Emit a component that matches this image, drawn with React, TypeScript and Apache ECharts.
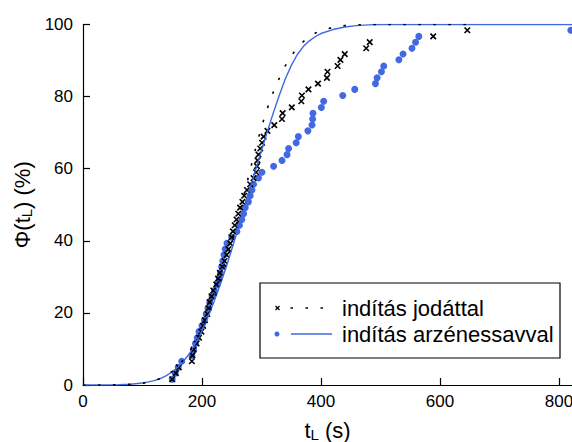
import React, { useEffect, useRef } from 'react';
import * as echarts from 'echarts';

const cumulativePct = [
  1.6, 3.3, 4.9, 6.6, 8.2, 9.8, 11.5, 13.1, 14.8, 16.4, 18.0, 19.7, 21.3, 23.0, 24.6,
  26.2, 27.9, 29.5, 31.1, 32.8, 34.4, 36.1, 37.7, 39.3, 41.0, 42.6, 44.3, 45.9, 47.5, 49.2,
  50.8, 52.5, 54.1, 55.7, 57.4, 59.0, 60.7, 62.3, 63.9, 65.6, 67.2, 68.9, 70.5, 72.1, 73.8,
  75.4, 77.0, 78.7, 80.3, 82.0, 83.6, 85.2, 86.9, 88.5, 90.2, 91.8, 93.4, 95.1, 96.7, 98.4,
];

// induction times, initiation with iodate (crosses)
const jodTimes = [
  150, 156, 161, 183, 184, 186, 191, 195, 199, 202, 205, 209, 211, 213, 216,
  219, 224, 227, 230, 234, 238, 241.5, 244.6, 247.5, 249.5, 252, 255, 258, 261, 264,
  268, 271, 275.6, 281, 286.7, 291, 292.4, 293.4, 295, 298, 301, 303.5, 310, 321.5, 334.5,
  335.6, 351, 367, 368, 379, 395, 410, 411, 428, 432.7, 440, 476, 482, 588.7, 646,
];

// induction times, initiation with arsenous acid (dots)
const arzTimes = [
  150, 155, 160, 166, 183, 186, 189, 192, 195, 200, 204, 207, 210, 213, 217,
  221, 226, 229, 231, 233, 235, 237, 239, 242, 250, 258.7, 263, 267, 270, 272.7,
  278, 281, 284, 286.7, 295, 300.8, 320.4, 334.5, 343, 345.6, 358.3, 362, 378, 385, 386,
  386.6, 400.7, 404.6, 436.6, 456.8, 491.6, 494.4, 501.7, 505.6, 531, 538, 553, 559, 564.5, 820,
];

// fitted distribution curves
const jodFitX = [0, 40, 60, 80, 100, 110, 120, 130, 140, 150, 160, 170, 180, 190, 200, 210, 220, 230, 240, 250, 260, 270, 280, 290, 300, 310, 320, 330, 340, 350, 360, 370, 380, 390, 400, 420, 440, 460, 480, 500, 650];
const jodFitY = [0, 0, 0.05, 0.2, 0.5, 0.8, 1.2, 1.8, 2.7, 3.8, 5.3, 7.2, 9.5, 12.3, 15.5, 19.2, 23.4, 28.2, 33.5, 39.4, 45.7, 52.3, 59, 65.5, 71.5, 76.8, 81.3, 85.1, 88.5, 91.3, 93.5, 95.2, 96.6, 97.6, 98.3, 99.2, 99.7, 99.9, 100, 100, 100];

const arzFitX = [0, 40, 60, 80, 100, 110, 120, 130, 140, 150, 160, 170, 180, 190, 200, 210, 220, 230, 240, 250, 260, 270, 280, 290, 300, 310, 320, 330, 340, 350, 360, 370, 380, 390, 400, 420, 440, 460, 480, 500, 822];
const arzFitY = [0, 0, 0.05, 0.2, 0.55, 0.85, 1.2, 1.8, 2.6, 3.6, 5.0, 6.8, 9.0, 11.8, 15, 18.8, 23, 27.5, 32.3, 37.6, 43, 48.6, 54.2, 59.6, 65, 70.4, 75.5, 80.4, 84.9, 88.6, 91.6, 93.8, 95.4, 96.6, 97.5, 98.6, 99.3, 99.7, 99.9, 100, 100];

const xTicks = [0, 200, 400, 600, 800];
const legendLabels = ['indítás jodáttal', 'indítás arzénessavval'];

const BLUE = '#4169e1';
const FONT = '"Liberation Sans", Arial, Helvetica, sans-serif';

export default function App() {
  const ref = useRef<HTMLDivElement>(null);

  useEffect(() => {
    const chart = echarts.init(ref.current as HTMLDivElement, null, { renderer: 'svg' });
    const nameRich = {
      n: { fontSize: 22, lineHeight: 22, verticalAlign: 'top', color: '#000', fontFamily: FONT },
      s: { fontSize: 15, lineHeight: 15, padding: [12, 0, 0, 0], verticalAlign: 'bottom', color: '#000', fontFamily: FONT },
    };
    chart.setOption({
      animation: false,
      textStyle: { fontFamily: FONT },
      grid: { left: 83, right: 0, top: 24.5, bottom: 57, containLabel: false, outerBoundsMode: 'none' },
      xAxis: {
        type: 'value',
        min: 0,
        max: 822,
        axisLine: { show: true, onZero: false, lineStyle: { color: '#000', width: 1.2 } },
        axisTick: { show: true, inside: true, length: 7, customValues: xTicks, lineStyle: { color: '#000', width: 1.2 } },
        axisLabel: { customValues: xTicks, fontSize: 17, color: '#000', margin: 8, fontFamily: FONT },
        splitLine: { show: false },
        name: '{n|t}{s|L}{n| (s)}',
        nameLocation: 'middle',
        nameGap: 33,
        nameTextStyle: { rich: nameRich },
      },
      yAxis: {
        type: 'value',
        min: 0,
        max: 100,
        interval: 20,
        axisLine: { show: true, onZero: false, lineStyle: { color: '#000', width: 1.2 } },
        axisTick: { show: true, inside: true, length: 7, lineStyle: { color: '#000', width: 1.2 } },
        axisLabel: { fontSize: 17, color: '#000', margin: 10, fontFamily: FONT },
        splitLine: { show: false },
        name: '{n|Φ(t}{s|L}{n|) (%)}',
        nameLocation: 'middle',
        nameGap: 46,
        nameRotate: 90,
        nameTextStyle: { rich: nameRich },
      },
      series: [
        {
          type: 'scatter',
          name: legendLabels[1],
          data: arzTimes.map((t, i) => [t, cumulativePct[i]]),
          symbol: 'circle',
          symbolSize: 7,
          itemStyle: { color: BLUE, opacity: 1 },
          z: 2,
        },
        {
          type: 'scatter',
          name: legendLabels[0],
          data: jodTimes.map((t, i) => [t, cumulativePct[i]]),
          symbol: 'path://M0,0L10,10M10,0L0,10',
          symbolSize: 5.5,
          itemStyle: { color: 'none', borderColor: '#000', borderWidth: 1.6, opacity: 1 },
          z: 3,
        },
        {
          type: 'line',
          name: legendLabels[1] + ' fit',
          data: arzFitX.map((t, i) => [t, arzFitY[i]]),
          showSymbol: false,
          symbol: 'none',
          lineStyle: { color: BLUE, width: 1.4 },
          z: 4,
        },
        {
          type: 'line',
          name: legendLabels[0] + ' fit',
          data: jodFitX.map((t, i) => [t, jodFitY[i]]),
          showSymbol: false,
          symbol: 'none',
          lineStyle: { color: '#000', width: 1.6, type: [2.5, 12.5] },
          z: 5,
        },
      ],
      graphic: [
        {
          type: 'rect',
          shape: { x: 260, y: 283, width: 300, height: 75 },
          style: { fill: '#fff', stroke: '#000', lineWidth: 1.2 },
          z: 10,
        },
        {
          type: 'line',
          shape: { x1: 275.5, y1: 306, x2: 279.5, y2: 310 },
          style: { stroke: '#000', lineWidth: 1.3 },
          z: 11,
        },
        {
          type: 'line',
          shape: { x1: 279.5, y1: 306, x2: 275.5, y2: 310 },
          style: { stroke: '#000', lineWidth: 1.3 },
          z: 11,
        },
        {
          type: 'line',
          shape: { x1: 290.5, y1: 308, x2: 326, y2: 308 },
          style: { stroke: '#000', lineWidth: 1.6, lineDash: [2.5, 12.5] },
          z: 11,
        },
        {
          type: 'text',
          x: 342,
          y: 308,
          style: { text: legendLabels[0], fontSize: 22, fontFamily: FONT, fill: '#000', textAlign: 'left', textVerticalAlign: 'middle' },
          z: 11,
        },
        {
          type: 'circle',
          shape: { cx: 277, cy: 334, r: 2.5 },
          style: { fill: BLUE },
          z: 11,
        },
        {
          type: 'line',
          shape: { x1: 291, y1: 334, x2: 332, y2: 334 },
          style: { stroke: BLUE, lineWidth: 1.4 },
          z: 11,
        },
        {
          type: 'text',
          x: 342,
          y: 334,
          style: { text: legendLabels[1], fontSize: 22, fontFamily: FONT, fill: '#000', textAlign: 'left', textVerticalAlign: 'middle' },
          z: 11,
        },
      ],
    });
    return () => chart.dispose();
  }, []);

  return (
    <div
      ref={ref}
      style={{ position: 'fixed', left: 0, top: 0, width: 572, height: 442, background: '#fff' }}
    />
  );
}
